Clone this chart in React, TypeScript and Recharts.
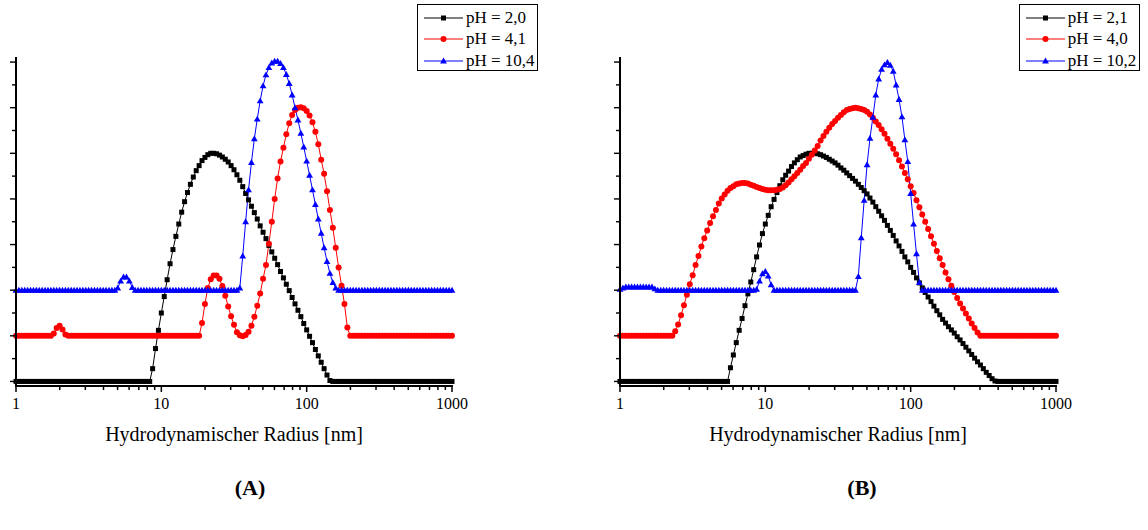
import { LineChart, Line, XAxis, YAxis } from "recharts"

const FONT = '"Liberation Serif", "Times New Roman", serif'

// measurement bins: 50 log-spaced bins per decade, 1 nm .. 1000 nm
const binsPerDecade = 50
const radius = Array.from({ length: 151 }, (_, i) => Math.pow(10, i / binsPerDecade))

const xTicks = [1, 2, 3, 4, 5, 6, 7, 8, 9, 10, 20, 30, 40, 50, 60, 70, 80, 90, 100, 200, 300, 400, 500, 600, 700, 800, 900, 1000]
const yTicks = [0, 0.5, 1, 1.5, 2, 2.5, 3, 3.5, 4, 4.5, 5, 5.5, 6, 6.5, 7]

const labelsA = ["pH = 2,0", "pH = 4,1", "pH = 10,4"]
const labelsB = ["pH = 2,1", "pH = 4,0", "pH = 10,2"]

// (A) pH 2,0 (offset 0)
const blackA = [
	0, 0, 0, 0, 0, 0, 0, 0, 0, 0, 0, 0, 0, 0, 0, 0, 0, 0, 0, 0, 0, 0, 0, 0, 0, 0, 0, 0, 0, 0,
	0, 0, 0, 0, 0, 0, 0, 0, 0, 0, 0, 0, 0, 0, 0, 0, 0,
	0.28, 0.72, 1.12, 1.5, 1.86, 2.23, 2.58, 2.89, 3.18, 3.45, 3.71, 3.94, 4.14, 4.32, 4.48, 4.62, 4.73, 4.84, 4.91, 4.97,
	5.0, 5.0, 4.99, 4.96, 4.92, 4.87, 4.81, 4.73, 4.64, 4.53, 4.41, 4.27, 4.12, 3.98, 3.84, 3.7, 3.56, 3.41, 3.27, 3.13,
	2.98, 2.84, 2.7, 2.56, 2.41, 2.27, 2.13, 1.99, 1.84, 1.7, 1.56, 1.42, 1.27, 1.13, 0.99, 0.85, 0.7, 0.56, 0.42, 0.28,
	0.14, 0.02,
	0, 0, 0, 0, 0, 0, 0, 0, 0, 0, 0, 0, 0, 0, 0, 0, 0, 0, 0, 0, 0, 0, 0, 0, 0, 0, 0, 0, 0, 0,
	0, 0, 0, 0, 0, 0, 0, 0, 0, 0, 0, 0,
]
// (A) pH 4,1 (offset 1)
const redA = [
	1, 1, 1, 1, 1, 1, 1, 1, 1, 1, 1, 1, 1,
	1.05, 1.17, 1.22, 1.14, 1.03,
	1, 1, 1, 1, 1, 1, 1, 1, 1, 1, 1, 1, 1, 1, 1, 1, 1, 1, 1, 1, 1, 1, 1, 1, 1, 1, 1, 1, 1, 1,
	1, 1, 1, 1, 1, 1, 1, 1, 1, 1, 1, 1, 1, 1, 1, 1,
	1.28, 1.7, 2.05, 2.24, 2.32, 2.32, 2.25, 2.09, 1.88, 1.64, 1.43, 1.24, 1.08, 1.01, 0.99, 1.02, 1.09, 1.22, 1.42, 1.66,
	1.93, 2.25, 2.55, 3.02, 3.5, 4.0, 4.45, 4.82, 5.12, 5.42, 5.66, 5.84, 5.95, 6.0, 6.01, 5.99, 5.93, 5.83, 5.68, 5.47,
	5.2, 4.86, 4.55, 4.17, 3.76, 3.37, 2.93, 2.5, 2.1, 1.7, 1.18,
	1, 1, 1, 1, 1, 1, 1, 1, 1, 1, 1, 1, 1, 1, 1, 1, 1, 1, 1, 1, 1, 1, 1, 1, 1, 1, 1, 1, 1, 1,
	1, 1, 1, 1, 1, 1,
]
// (A) pH 10,4 (offset 2)
const blueA = [
	2, 2, 2, 2, 2, 2, 2, 2, 2, 2, 2, 2, 2, 2, 2, 2, 2, 2, 2, 2, 2, 2, 2, 2, 2, 2, 2, 2, 2, 2,
	2, 2, 2, 2, 2,
	2.05, 2.2, 2.29, 2.29, 2.2, 2.06,
	2, 2, 2, 2, 2, 2, 2, 2, 2, 2, 2, 2, 2, 2, 2, 2, 2, 2, 2, 2, 2, 2, 2, 2, 2, 2, 2, 2, 2, 2,
	2, 2, 2, 2, 2, 2,
	2.05, 2.75, 3.5, 4.2, 4.8, 5.32, 5.75, 6.15, 6.48, 6.72, 6.88, 6.98, 7.02, 7.02, 6.97, 6.88, 6.73, 6.53, 6.28, 6.0,
	5.73, 5.44, 5.14, 4.83, 4.52, 4.2, 3.88, 3.56, 3.25, 2.93, 2.63, 2.37, 2.17, 2.05,
	2, 2, 2, 2, 2, 2, 2, 2, 2, 2, 2, 2, 2, 2, 2, 2, 2, 2, 2, 2, 2, 2, 2, 2, 2, 2, 2, 2, 2, 2,
	2, 2, 2, 2, 2, 2, 2, 2, 2, 2,
]

// (B) pH 2,1 (offset 0)
const blackB = [
	0, 0, 0, 0, 0, 0, 0, 0, 0, 0, 0, 0, 0, 0, 0, 0, 0, 0, 0, 0, 0, 0, 0, 0, 0, 0, 0, 0, 0, 0,
	0, 0, 0, 0, 0, 0, 0, 0,
	0.3, 0.58, 0.85, 1.12, 1.38, 1.66, 1.92, 2.18, 2.45, 2.73, 2.99, 3.24, 3.45, 3.64, 3.83, 3.99, 4.14, 4.29, 4.42, 4.52,
	4.61, 4.71, 4.79, 4.86, 4.92, 4.95, 4.98, 5.0, 5.0, 5.0, 4.99, 4.97, 4.94, 4.91, 4.87, 4.83, 4.79, 4.74, 4.68, 4.63,
	4.57, 4.51, 4.45, 4.39, 4.32, 4.25, 4.18, 4.11, 4.02, 3.93, 3.83, 3.73, 3.63, 3.53, 3.42, 3.31, 3.2, 3.08, 2.97, 2.85,
	2.73, 2.62, 2.5, 2.39, 2.27, 2.16, 2.05, 1.95, 1.85, 1.75, 1.65, 1.55, 1.46, 1.36, 1.28, 1.2, 1.13, 1.06, 0.98, 0.91,
	0.83, 0.75, 0.67, 0.59, 0.51, 0.43, 0.36, 0.28, 0.2, 0.13, 0.06, 0.01,
	0, 0, 0, 0, 0, 0, 0, 0, 0, 0, 0, 0, 0, 0, 0, 0, 0, 0, 0, 0, 0,
]
// (B) pH 4,0 (offset 1)
const redB = [
	1, 1, 1, 1, 1, 1, 1, 1, 1, 1, 1, 1, 1, 1, 1, 1, 1, 1, 1,
	1.1, 1.25, 1.45, 1.67, 1.9, 2.13, 2.33, 2.55, 2.75, 2.96, 3.14, 3.31, 3.47, 3.62, 3.76, 3.9, 4.01, 4.1, 4.18, 4.24,
	4.28, 4.32, 4.34, 4.35, 4.35, 4.34, 4.31, 4.29, 4.26, 4.24, 4.22, 4.2, 4.19, 4.19, 4.19, 4.2, 4.22, 4.25, 4.3, 4.36,
	4.43, 4.5, 4.57, 4.64, 4.72, 4.79, 4.88, 4.97, 5.06, 5.16, 5.28, 5.38, 5.47, 5.56, 5.64, 5.71, 5.78, 5.84, 5.9, 5.95,
	5.97, 5.99, 6.0, 5.99, 5.97, 5.95, 5.91, 5.85, 5.78, 5.7, 5.62, 5.53, 5.43, 5.32, 5.21, 5.1, 4.98, 4.85, 4.71, 4.57,
	4.43, 4.28, 4.13, 3.97, 3.82, 3.66, 3.5, 3.34, 3.18, 3.02, 2.86, 2.7, 2.55, 2.39, 2.24, 2.1, 1.96, 1.83, 1.71, 1.6,
	1.49, 1.38, 1.27, 1.17, 1.07, 1.0,
	1, 1, 1, 1, 1, 1, 1, 1, 1, 1, 1, 1, 1, 1, 1, 1, 1, 1, 1, 1, 1, 1, 1, 1, 1, 1,
]
// (B) pH 10,2 (offset 2)
const blueB = [
	2.02, 2.05, 2.07, 2.07, 2.07, 2.07, 2.07, 2.07, 2.07, 2.07, 2.07, 2.07, 2.03,
	2, 2, 2, 2, 2, 2, 2, 2, 2, 2, 2, 2, 2, 2, 2, 2, 2, 2, 2, 2, 2, 2, 2, 2, 2, 2, 2, 2, 2, 2,
	2, 2, 2, 2,
	2.02, 2.2, 2.36, 2.41, 2.31, 2.12,
	2, 2, 2, 2, 2, 2, 2, 2, 2, 2, 2, 2, 2, 2, 2, 2, 2, 2, 2, 2, 2, 2, 2, 2, 2, 2, 2, 2, 2,
	2.3, 3.15, 3.97, 4.75, 5.33, 5.79, 6.28, 6.63, 6.84, 6.94, 6.99, 6.93, 6.8, 6.5, 6.18, 5.8, 5.3, 4.82, 4.12, 3.45,
	2.8, 2.17,
	2, 2, 2, 2, 2, 2, 2, 2, 2, 2, 2, 2, 2, 2, 2, 2, 2, 2, 2, 2, 2, 2, 2, 2, 2, 2, 2, 2, 2, 2,
	2, 2, 2, 2, 2, 2, 2, 2, 2, 2, 2, 2, 2, 2, 2, 2, 2,
]

const dataA = radius.map((r, i) => ({ r, s1: blackA[i], s2: redA[i], s3: blueA[i] }))
const dataB = radius.map((r, i) => ({ r, s1: blackB[i], s2: redB[i], s3: blueB[i] }))

const COLORS = ["#000000", "#ff0000", "#0000ff"]

const Square = (p: any) => (
	<rect key={`sq-${p.index}`} x={p.cx - 2.5} y={p.cy - 2.5} width={5} height={5} fill="#000" />
)
const Dot = (p: any) => <circle key={`ci-${p.index}`} cx={p.cx} cy={p.cy} r={3} fill="#ff0000" />
const Tri = (p: any) => (
	<path
		key={`tr-${p.index}`}
		d={`M${p.cx},${p.cy - 3.4} L${p.cx + 3.4},${p.cy + 2.5} L${p.cx - 3.4},${p.cy + 2.5} Z`}
		fill="#0000ff"
	/>
)

// tick marks drawn as filled rects (outward), labels only on the decades
const XTick = (props: any) => {
	const x = Number(props.x)
	const y = Number(props.y)
	const v = props.payload.value
	const major = v === 1 || v === 10 || v === 100 || v === 1000
	return (
		<g>
			<rect x={x - 0.75} y={y} width={1.5} height={major ? 6 : 4} fill="#000" />
			{major && (
				<text x={x} y={y + 23} textAnchor="middle" fontSize={16} fontFamily={FONT} fill="#000">
					{v}
				</text>
			)}
		</g>
	)
}

const YTick = (props: any) => {
	const x = Number(props.x)
	const y = Number(props.y)
	const len = Number.isInteger(props.payload.value) ? 6 : 4
	return <rect x={x - len} y={y - 0.7} width={len} height={1.4} fill="#000" />
}

const Legend = ({ left, labels, textLeft }: { left: number; labels: string[]; textLeft: number }) => (
	<div
		style={{
			position: "absolute",
			left,
			top: 4,
			width: 121,
			height: 67,
			border: "1px solid #000",
			boxSizing: "border-box",
			background: "#fff",
			fontFamily: FONT,
			fontSize: 17,
		}}
	>
		{labels.map((l, i) => (
			<div key={l} style={{ position: "absolute", left: 0, top: 12.7 + i * 21.7 - 11, height: 22, width: "100%" }}>
				<svg width={44} height={22} style={{ position: "absolute", left: 4 }}>
					<line x1={2} x2={41} y1={11} y2={11} stroke={COLORS[i]} strokeWidth={1} />
					{i === 0 && <rect x={19} y={8.5} width={5} height={5} fill="#000" />}
					{i === 1 && <circle cx={21.5} cy={11} r={3} fill="#ff0000" />}
					{i === 2 && <path d="M21.5,7.6 L24.9,13.5 L18.1,13.5 Z" fill="#0000ff" />}
				</svg>
				<span style={{ position: "absolute", left: textLeft, top: 0, lineHeight: "22px", whiteSpace: "nowrap" }}>{l}</span>
			</div>
		))}
	</div>
)

// plain frame lines along the left and bottom edge of a plot area (axis lines)
const AxisFrame = ({ axisLeft }: { axisLeft: number }) => (
	<>
		<div style={{ position: "absolute", left: axisLeft - 1, top: 57, width: 2, height: 330, background: "#000" }} />
		<div style={{ position: "absolute", left: axisLeft - 1, top: 385, width: 438, height: 2, background: "#000" }} />
	</>
)

const Panel = ({ data, axisLeft, width }: { data: any[]; axisLeft: number; width: number }) => (
	<LineChart
		width={width}
		height={460}
		data={data}
		margin={{ top: 57.5, right: width - axisLeft - 436, bottom: 0, left: axisLeft - 1 }}
	>
		<XAxis
			dataKey="r"
			type="number"
			scale="log"
			domain={[1, 1000]}
			ticks={xTicks}
			interval={0}
			tick={<XTick />}
			tickLine={false}
			tickSize={0}
			tickMargin={0}
			height={74}
			axisLine={{ stroke: "#000", strokeWidth: 2 }}
			label={{
				value: "Hydrodynamischer Radius [nm]",
				position: "insideBottom",
				offset: 19,
				fontSize: 20,
				fontFamily: FONT,
				fill: "#000",
			}}
		/>
		<YAxis
			type="number"
			domain={[-0.1, 7.1]}
			allowDataOverflow
			ticks={yTicks}
			interval={0}
			width={1}
			tick={<YTick />}
			tickLine={false}
			tickSize={0}
			tickMargin={0}
			axisLine={{ stroke: "#000", strokeWidth: 2 }}
		/>
		<Line dataKey="s1" stroke="#000" strokeWidth={1} dot={Square} activeDot={false} isAnimationActive={false} />
		<Line dataKey="s2" stroke="#ff0000" strokeWidth={1} dot={Dot} activeDot={false} isAnimationActive={false} />
		<Line dataKey="s3" stroke="#0000ff" strokeWidth={1} dot={Tri} activeDot={false} isAnimationActive={false} />
	</LineChart>
)

const tagStyle: React.CSSProperties = {
	position: "absolute",
	top: 476,
	width: 60,
	textAlign: "center",
	fontFamily: FONT,
	fontWeight: "bold",
	fontSize: 22,
	lineHeight: "24px",
}

export default function App() {
	return (
		<div style={{ position: "absolute", left: 0, top: 0, width: 1148, height: 530, background: "#fff" }}>
			<div style={{ position: "absolute", left: 0, top: 0 }}>
				<Panel data={dataA} axisLeft={16} width={560} />
			</div>
			<div style={{ position: "absolute", left: 600, top: 0 }}>
				<Panel data={dataB} axisLeft={20} width={548} />
			</div>
			<AxisFrame axisLeft={16} />
			<AxisFrame axisLeft={620} />
			<Legend left={417} labels={labelsA} textLeft={48} />
			<Legend left={1019} labels={labelsB} textLeft={47.7} />
			<div style={{ ...tagStyle, left: 220 }}>(A)</div>
			<div style={{ ...tagStyle, left: 832 }}>(B)</div>
		</div>
	)
}
